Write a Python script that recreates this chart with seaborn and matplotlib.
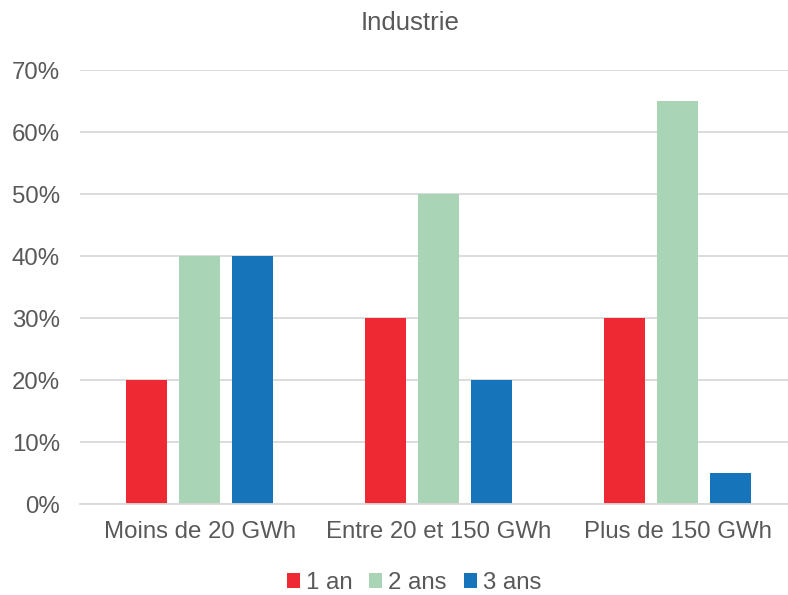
import matplotlib
matplotlib.use("Agg")
import matplotlib.pyplot as plt
import seaborn as sns
import pandas as pd
from matplotlib.ticker import PercentFormatter, FixedLocator

categories = ["Moins de 20 GWh", "Entre 20 et 150 GWh", "Plus de 150 GWh"]
series = ["1 an", "2 ans", "3 ans"]
values_1an = [0.20, 0.30, 0.30]
values_2ans = [0.40, 0.50, 0.65]
values_3ans = [0.40, 0.20, 0.05]
y_ticks = [0.0, 0.1, 0.2, 0.3, 0.4, 0.5, 0.6, 0.7]
title = "Industrie"

colors = ["#EE2934", "#A9D4B5", "#1574BA"]
text_color = "#595959"
grid_color = "#D9D9D9"

df = pd.DataFrame({
    "categorie": categories * 3,
    "serie": [series[0]] * 3 + [series[1]] * 3 + [series[2]] * 3,
    "valeur": values_1an + values_2ans + values_3ans,
})

sns.set_theme(style="white")
plt.rcParams["font.family"] = ["Liberation Sans", "DejaVu Sans"]

W, H = 788, 595
fig = plt.figure(figsize=(W / 100, H / 100), dpi=100)
left, right_full = 80, 797
top, bottom = 70.3, 504.3
ax = fig.add_axes([left / W, (H - bottom) / H, (W - left) / W, (bottom - top) / H])

sns.barplot(data=df, x="categorie", y="valeur", hue="serie", palette=colors,
            width=0.666, gap=0.22, ax=ax, legend=False, saturation=1,
            linewidth=0, edgecolor="none")

cat_px = (right_full - left) / 3
ax.set_xlim(-0.5, 2.5 - (right_full - W) / cat_px)
ax.set_ylim(0, 0.7)
ax.yaxis.set_major_locator(FixedLocator(y_ticks))
ax.yaxis.set_major_formatter(PercentFormatter(1.0, decimals=0))
ax.grid(axis="y", color=grid_color, linewidth=1.3)
ax.set_axisbelow(True)
for s in ["top", "right", "left"]:
    ax.spines[s].set_visible(False)
ax.spines["bottom"].set_color(grid_color)
ax.spines["bottom"].set_linewidth(1.3)
ax.tick_params(axis="y", length=0, pad=14.5, labelsize=17.3, labelcolor=text_color)
ax.tick_params(axis="x", length=0, pad=12, labelsize=17.3, labelcolor=text_color)
ax.set_xlabel("")
ax.set_ylabel("")

fig.text(410 / W, 1 - 23 / H, title, ha="center", va="center",
         fontsize=18.6, color=text_color)

handles = [plt.Rectangle((0, 0), 1, 1, color=c, linewidth=0) for c in colors]
fig.legend(handles, series, loc="center", bbox_to_anchor=(414 / W, 1 - 583 / H),
           ncol=3, frameon=False, fontsize=17.3, labelcolor=text_color,
           handlelength=0.55, handleheight=0.55, handletextpad=0.25,
           columnspacing=0.7, borderpad=0)

fig.savefig("out.png", dpi=100)
